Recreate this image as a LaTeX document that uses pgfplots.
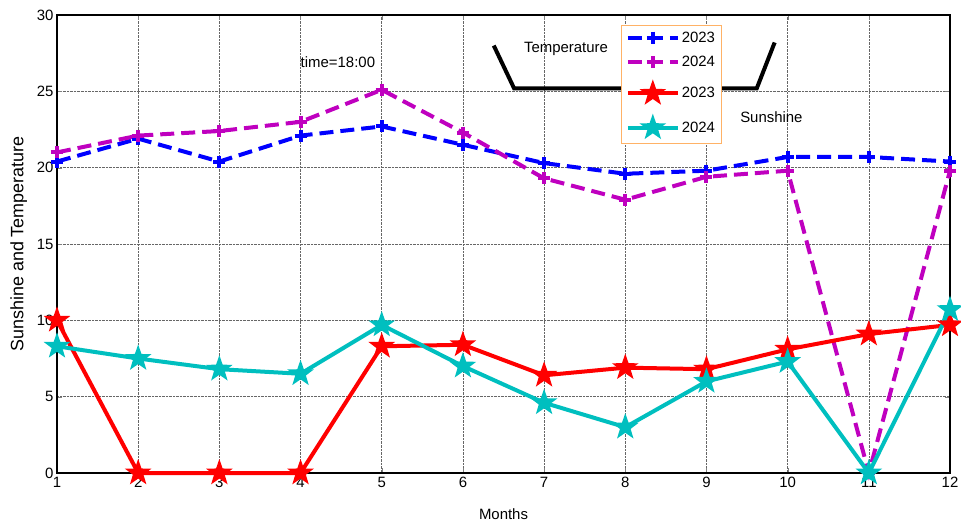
\documentclass[border=0pt]{standalone}
\usepackage{fontspec}
\setmainfont{Liberation Sans}
\usepackage{pgfplots}
\pgfplotsset{compat=1.18}
\usetikzlibrary{calc}
\definecolor{mblue}{HTML}{0000FF}
\definecolor{mmag}{HTML}{BF00BF}
\definecolor{mred}{HTML}{FF0000}
\definecolor{mcyan}{HTML}{00BFBF}
\definecolor{legbox}{HTML}{FFB266}

% filled five-pointed star, point up
\pgfdeclareplotmark{pent}{%
  \pgfpathmoveto{\pgfpointpolar{90}{\pgfplotmarksize}}%
  \pgfpathlineto{\pgfpointpolar{126}{0.40\pgfplotmarksize}}%
  \pgfpathlineto{\pgfpointpolar{162}{\pgfplotmarksize}}%
  \pgfpathlineto{\pgfpointpolar{198}{0.40\pgfplotmarksize}}%
  \pgfpathlineto{\pgfpointpolar{234}{\pgfplotmarksize}}%
  \pgfpathlineto{\pgfpointpolar{270}{0.40\pgfplotmarksize}}%
  \pgfpathlineto{\pgfpointpolar{306}{\pgfplotmarksize}}%
  \pgfpathlineto{\pgfpointpolar{342}{0.40\pgfplotmarksize}}%
  \pgfpathlineto{\pgfpointpolar{18}{\pgfplotmarksize}}%
  \pgfpathlineto{\pgfpointpolar{54}{0.40\pgfplotmarksize}}%
  \pgfpathclose\pgfusepathqfill}

\begin{document}
\begin{tikzpicture}
\begin{axis}[
  scale only axis,width=893bp,height=458bp,
  xmin=1,xmax=12,ymin=0,ymax=30,
  xtick={1,...,12},ytick={0,5,...,30},
  tick align=inside,major tick length=5bp,
  axis line style={line width=1.3pt},
  grid=major,grid style={densely dotted,gray!80!black,line width=0.6pt},
  font=\fontsize{15}{18}\selectfont,
  /pgf/number format/assume math mode=true,
  xticklabel style={yshift=-1bp},
  xlabel={Months},ylabel={Sunshine and Temperature},
  xlabel style={yshift=-14bp},
  ylabel style={yshift=3bp,font=\fontsize{18}{20}\selectfont},
  clip=false,
  legend style={at={(rel axis cs:0.632,0.978)},anchor=north west,
    draw=legbox,line width=1pt,font=\fontsize{15}{18}\selectfont,
    row sep=9bp,inner sep=4bp,
    /tikz/every even column/.append style={column sep=6bp}},
  legend cell align=left,
  legend image code/.code={\draw[mark repeat=2,mark phase=2]
    plot coordinates {(0cm,0cm) (0.88cm,0cm) (1.76cm,0cm)};},
]
\addplot[mblue,line width=4bp,dash pattern=on 14bp off 7bp,
  mark=+,mark size=6bp,mark options={solid,line width=4bp}] coordinates {
  (1,20.4) (2,21.9) (3,20.4) (4,22.1) (5,22.7) (6,21.5)
  (7,20.3) (8,19.6) (9,19.8) (10,20.7) (11,20.7) (12,20.4)
};
\addplot[mmag,line width=4bp,dash pattern=on 14bp off 7bp,
  mark=+,mark size=6bp,mark options={solid,line width=4bp}] coordinates {
  (1,21.0) (2,22.1) (3,22.4) (4,23.0) (5,25.1) (6,22.3)
  (7,19.3) (8,17.9) (9,19.4) (10,19.8) (11,0) (12,19.8)
};
\addplot[mred,line width=4bp,mark=pent,mark size=14bp] coordinates {
  (1,10.0) (2,0) (3,0) (4,0) (5,8.3) (6,8.4)
  (7,6.4) (8,6.9) (9,6.8) (10,8.1) (11,9.1) (12,9.7)
};
\addplot[mcyan,line width=4bp,mark=pent,mark size=14bp] coordinates {
  (1,8.3) (2,7.5) (3,6.8) (4,6.5) (5,9.7) (6,7.0)
  (7,4.6) (8,3.0) (9,6.0) (10,7.3) (11,0) (12,10.7)
};
\legend{2023,2024,2023,2024}
\draw[black,line width=4bp] (axis cs:6.38,28.0) -- (axis cs:6.63,25.2)
  -- (axis cs:9.62,25.2) -- (axis cs:9.84,28.2);
\node at (axis cs:7.27,27.8) {Temperature};
\node at (axis cs:9.80,23.3) {Sunshine};
\node at (axis cs:4.46,26.9) {time=18:00};
\coordinate (O) at (rel axis cs:0,0);
\end{axis}
\pgfresetboundingbox
\path ($(O)+(-57bp,-54bp)$) rectangle ($(O)+(904bp,473bp)$);
\end{tikzpicture}
\end{document}
